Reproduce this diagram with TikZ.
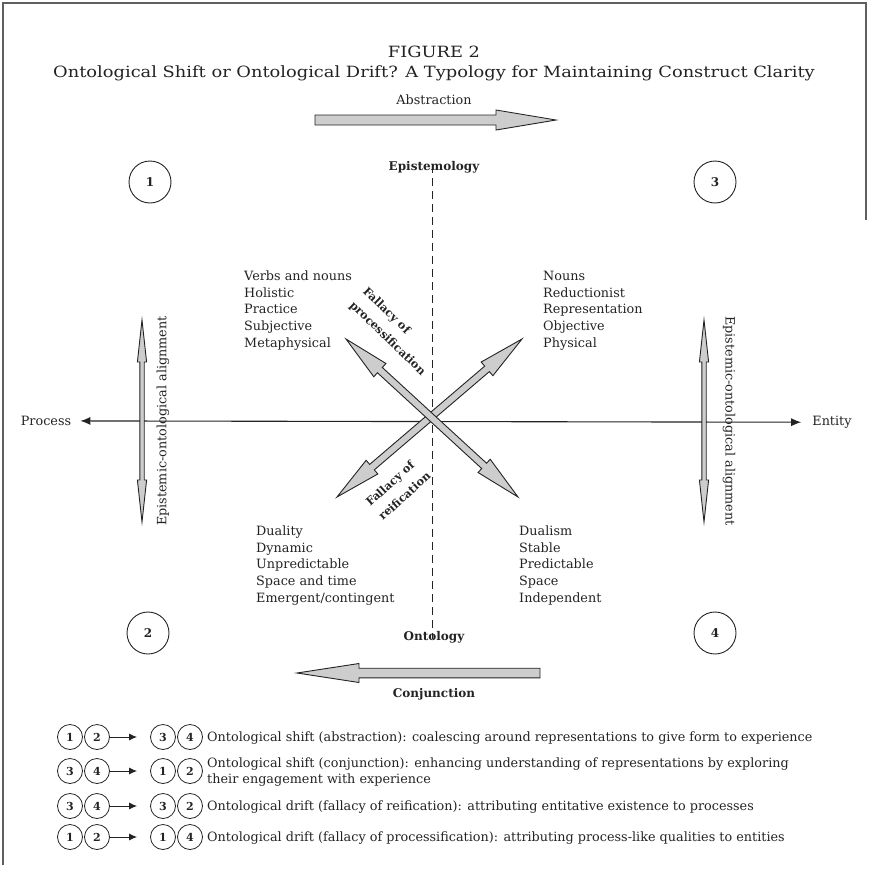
\documentclass[tikz,border=0pt]{standalone}
\usepackage{fontspec}
\setmainfont{DejaVu Serif}
\newfontfamily\titlefont[FakeStretch=1.15]{DejaVu Serif}
\usetikzlibrary{calc,arrows.meta}
\definecolor{ink}{RGB}{35,35,35}
\definecolor{blockfill}{RGB}{205,205,205}
\definecolor{framegray}{RGB}{95,95,95}
\tikzset{
  blockarrow/.style={draw=ink, fill=blockfill, line width=0.9pt, line join=miter},
  txt/.style={font=\fontsize{12.8}{15}\selectfont, text=ink, inner sep=0pt},
  titletxt/.style={font=\titlefont\fontsize{15.5}{18}\selectfont, text=ink, inner sep=0pt},
  boldlab/.style={font=\fontsize{12}{14}\bfseries\selectfont, text=ink, inner sep=0pt},
  fallacy/.style={font=\fontsize{11.3}{19}\bfseries\selectfont, text=ink, inner sep=0pt, align=left},
  quadnum/.style={circle, draw=ink, line width=0.9pt, minimum size=42pt, inner sep=0pt, font=\fontsize{12}{14}\bfseries\selectfont, text=ink},
  legnum/.style={circle, draw=ink, line width=0.8pt, minimum size=25pt, inner sep=0pt, font=\fontsize{11}{12}\bfseries\selectfont, text=ink},
  axisline/.style={draw=ink, line width=1.1pt, {Latex[length=10pt,width=8pt]}-{Latex[length=10pt,width=8pt]}},
  legarrow/.style={draw=ink, line width=1pt, -{Latex[length=8pt,width=7pt]}},
  divider/.style={draw=ink, line width=1pt, dash pattern=on 8pt off 5pt},
}
% single block arrow: start, end, shaft half width, head half width, head length
\newcommand{\sblock}[5]{%
  \coordinate (sbA) at (#1);
  \coordinate (sbB) at (#2);
  \coordinate (sbP) at ($(sbB)!#5!(sbA)$);
  \filldraw[blockarrow] ($(sbA)!#3!90:(sbB)$) -- ($(sbP)!#3!90:(sbB)$) -- ($(sbP)!#4!90:(sbB)$) -- (sbB)
    -- ($(sbP)!#4!-90:(sbB)$) -- ($(sbP)!#3!-90:(sbB)$) -- ($(sbA)!#3!-90:(sbB)$) -- cycle;
}
% double block arrow
\newcommand{\dblock}[5]{%
  \coordinate (dbA) at (#1);
  \coordinate (dbB) at (#2);
  \coordinate (dbP) at ($(dbB)!#5!(dbA)$);
  \coordinate (dbQ) at ($(dbA)!#5!(dbB)$);
  \filldraw[blockarrow] (dbA) -- ($(dbQ)!#4!90:(dbB)$) -- ($(dbQ)!#3!90:(dbB)$) -- ($(dbP)!#3!90:(dbB)$)
    -- ($(dbP)!#4!90:(dbB)$) -- (dbB) -- ($(dbP)!#4!-90:(dbB)$) -- ($(dbP)!#3!-90:(dbB)$)
    -- ($(dbQ)!#3!-90:(dbB)$) -- ($(dbQ)!#4!-90:(dbB)$) -- cycle;
}
\begin{document}
\begin{tikzpicture}[x=1pt,y=-1pt]
\useasboundingbox (0,0) rectangle (869,870);
% frame
\draw[framegray, line width=1.5pt] (3,865) -- (3,3) -- (866,3) -- (866,220);

% titles
\node[titletxt, anchor=base] (figlab) at (434,57) {FIGURE 2};
\node[titletxt, anchor=base] (subtitle) at (434,77) {Ontological Shift or Ontological Drift? A Typology for Maintaining Construct Clarity};

% abstraction / conjunction
\node[txt, anchor=base] (abstr) at (434,104) {Abstraction};
\coordinate (absL) at (315,120);
\coordinate (absR) at (556,120);
\sblock{absL}{absR}{5pt}{10pt}{60pt}
\node[boldlab, anchor=base] (conj) at (434,697) {Conjunction};
\coordinate (conR) at (540,673);
\coordinate (conL) at (297,673);
\sblock{conR}{conL}{4.8pt}{9.5pt}{62pt}

% quadrant numbers
\node[quadnum] (q1) at (150,182) {1};
\node[quadnum] (q3) at (715,182) {3};
\node[quadnum] (q2) at (148,633) {2};
\node[quadnum] (q4) at (715,633) {4};

% epistemology / ontology divider
\node[boldlab, anchor=base] (epist) at (434,170) {Epistemology};
\node[boldlab, anchor=base] (onto) at (434,640) {Ontology};
\draw[divider] ([xshift=-2pt,yshift=8pt]epist.south) -- ([xshift=-2pt,yshift=-8pt]onto.north);

% process / entity axis
\node[txt, anchor=base] (process) at (46,425) {Process};
\node[txt, anchor=base] (entity) at (832,425) {Entity};
\draw[axisline] ([xshift=9pt,yshift=-0.5pt]process.east) -- ([xshift=-11pt,yshift=-0.5pt]entity.west);

% side alignment arrows
\coordinate (lvT) at (142,320);
\coordinate (lvB) at (142,522);
\dblock{lvT}{lvB}{2.2pt}{4.6pt}{42pt}
\coordinate (rvT) at (704,320);
\coordinate (rvB) at (704,522);
\dblock{rvT}{rvB}{2.2pt}{4.6pt}{42pt}
\node[txt, rotate=90] (eoaL) at (163,421) {Epistemic-ontological alignment};
\node[txt, rotate=-90] (eoaR) at (729,421) {Epistemic-ontological alignment};

% diagonal arrows
\coordinate (dne) at (522,339);
\coordinate (dsw) at (337,497);
\coordinate (dnw) at (346,339);
\coordinate (dse) at (518,497);
\dblock{dne}{dsw}{3.6pt}{9pt}{46pt}
\dblock{dnw}{dse}{3.6pt}{9pt}{46pt}
\node[fallacy, rotate=-44] (fproc) at (394,332) {Fallacy of\\processification};
\node[fallacy, rotate=42] (freif) at (398,489) {Fallacy of\\reification};

% quadrant lists
\foreach \t [count=\i from 0] in {Verbs and nouns, Holistic, Practice, Subjective, Metaphysical}
  \node[txt, anchor=base west] (tl\i) at (244,280.5+16.7*\i) {\t};
\foreach \t [count=\i from 0] in {Nouns, Reductionist, Representation, Objective, Physical}
  \node[txt, anchor=base west] (tr\i) at (543,280.5+16.7*\i) {\t};
\foreach \t [count=\i from 0] in {Duality, Dynamic, Unpredictable, Space and time, Emergent/contingent}
  \node[txt, anchor=base west] (bl\i) at (256,535.5+16.7*\i) {\t};
\foreach \t [count=\i from 0] in {Dualism, Stable, Predictable, Space, Independent}
  \node[txt, anchor=base west] (br\i) at (519,535.5+16.7*\i) {\t};

% legend
\node[legnum] (la1) at (70,737) {1};
\node[legnum] (la2) at (97,737) {2};
\node[legnum] (la3) at (163,737) {3};
\node[legnum] (la4) at (190,737) {4};
\draw[legarrow] (la2.east) -- ([xshift=-13pt]la3.west);
\node[txt, anchor=base west] (lt1) at (207,741.5) {Ontological shift (abstraction): coalescing around representations to give form to experience};

\node[legnum] (lb1) at (70,771) {3};
\node[legnum] (lb2) at (97,771) {4};
\node[legnum] (lb3) at (163,771) {1};
\node[legnum] (lb4) at (190,771) {2};
\draw[legarrow] (lb2.east) -- ([xshift=-13pt]lb3.west);
\node[txt, anchor=base west] (lt2) at (207,767) {Ontological shift (conjunction): enhancing understanding of representations by exploring};
\node[txt, anchor=base west] (lt2b) at (207,783) {their engagement with experience};

\node[legnum] (lc1) at (70,806) {3};
\node[legnum] (lc2) at (97,806) {4};
\node[legnum] (lc3) at (163,806) {3};
\node[legnum] (lc4) at (190,806) {2};
\draw[legarrow] (lc2.east) -- ([xshift=-13pt]lc3.west);
\node[txt, anchor=base west] (lt3) at (207,810.5) {Ontological drift (fallacy of reification): attributing entitative existence to processes};

\node[legnum] (ld1) at (70,837) {1};
\node[legnum] (ld2) at (97,837) {2};
\node[legnum] (ld3) at (163,837) {1};
\node[legnum] (ld4) at (190,837) {4};
\draw[legarrow] (ld2.east) -- ([xshift=-13pt]ld3.west);
\node[txt, anchor=base west] (lt4) at (207,841.5) {Ontological drift (fallacy of processification): attributing process-like qualities to entities};
\end{tikzpicture}
\end{document}
